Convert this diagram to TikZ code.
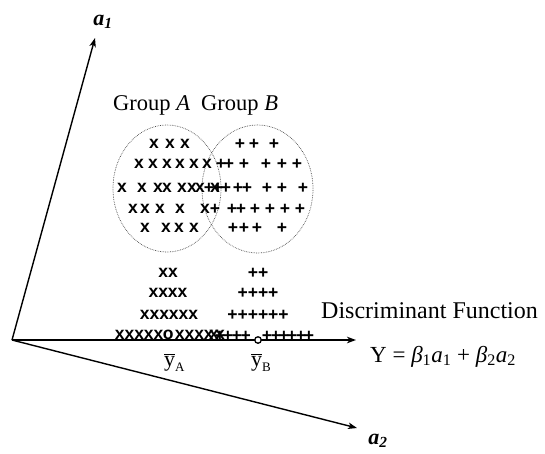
\documentclass[tikz,border=0pt]{standalone}
\usepackage{fontspec}
\setmainfont{Liberation Serif}
\newfontfamily\marksf{Liberation Sans}
\usetikzlibrary{arrows.meta,shapes.geometric}
\begin{document}
\begin{tikzpicture}[x=1pt,y=-1pt,
  axis/.style={line width=1.4pt,-{Stealth[length=9pt,width=6.5pt,inset=2.5pt]}},
  grp/.style={draw=black!70, densely dotted, line width=0.7pt, ellipse, inner sep=0pt},
  xm/.style={inner sep=0pt, font=\marksf\bfseries\fontsize{17.5}{17.5}\selectfont},
  lbl/.style={inner sep=0pt, font=\fontsize{23}{23}\selectfont},
  axlbl/.style={inner sep=0pt, font=\fontsize{22}{22}\selectfont\bfseries\itshape},
  ybar/.style={inner sep=0pt, anchor=base west, font=\fontsize{22}{22}\selectfont},
]
\useasboundingbox (0,0) rectangle (545,453);
% group ellipses
\node[grp, minimum width=108pt, minimum height=127pt] (gA) at (167,188.5) {};
\node[grp, minimum width=111pt, minimum height=128pt] (gB) at (257.5,189) {};
% axes
\coordinate (O) at (12,340);
\coordinate (A1) at (95,38);
\coordinate (A2) at (357,428);
\coordinate (YE) at (356,340);
\draw[axis] (O) -- (A1);
\draw[axis] (O) -- (A2);
\draw[axis] (O) -- (YE);
% axis labels
\node[axlbl] (la1) at (103,22) {a\textsubscript{1}};
\node[axlbl] (la2) at (378,441) {a\textsubscript{2}};
% group labels
\node[lbl, anchor=base west, font=\fontsize{22.5}{22.5}\selectfont] (gAl) at (113,110) {Group \textit{A}};
\node[lbl, anchor=base west, font=\fontsize{22.5}{22.5}\selectfont] (gBl) at (201,110) {Group \textit{B}};
% discriminant function
\node[lbl, anchor=base west, font=\fontsize{24}{24}\selectfont] (df) at (321,318) {Discriminant Function};
\node[lbl, anchor=base west] (eq) at (370,362) {Y = \textit{β}\textsubscript{1}\textit{a}\textsubscript{1} + \textit{β}\textsubscript{2}\textit{a}\textsubscript{2}};
% y-bar labels
\node[ybar] (yA) at (164,366) {$\overline{\mbox{y}}$\fontsize{13}{13}\selectfont\raisebox{-5pt}{A}};
\node[ybar] (yB) at (251,366) {$\overline{\mbox{y}}$\fontsize{13}{13}\selectfont\raisebox{-5pt}{B}};
% group A marks in ellipse
\foreach \py/\xs in {144/{154,170,185},
                     164/{139,153,167,180,194,207},
                     188/{122,142,158,167,182,192,200,215},
                     209/{133,145,160,180,205},
                     228/{145,166,179,194}} {
  \foreach \px in \xs { \node[xm] (xa-\px-\py) at (\px,\py) {x}; }
}
% group B marks in ellipse
\foreach \py/\xs in {144/{240,254,274},
                     164/{221,229,244,266,282,297},
                     188/{209,218,226,238,247,267,282,303},
                     209/{215,232,241,255,270,285,300},
                     228/{233,244,257,282}} {
  \foreach \px in \xs { \node[xm] (pb-\px-\py) at (\px,\py) {+}; }
}
% stacked projections
\node[xm] (sA1) at (168,273) {xx};
\node[xm] (sA2) at (168,293) {xxxx};
\node[xm] (sA3) at (169,315) {xxxxxx};
\node[xm] (sB1) at (258,273) {++};
\node[xm] (sB2) at (258,293) {++++};
\node[xm] (sB3) at (258,315) {++++++};
% bottom row on the axis
\foreach \px in {119.8,129.5,139.2,148.8,158.5,179.8,189.5,199.2,208.8,214,220} {
  \node[xm] (bx-\px) at (\px,335) {x};
}
\foreach \px in {220,228,236.7,245.7,267,276,284,292,301,309} {
  \node[xm] (bp-\px) at (\px,336) {+};
}
\node[xm] (oA) at (168.3,335) {o};
\node[circle, draw, fill=white, line width=1.3pt, inner sep=0pt, minimum size=6.5pt] (oB) at (258,340) {};
\end{tikzpicture}
\end{document}
